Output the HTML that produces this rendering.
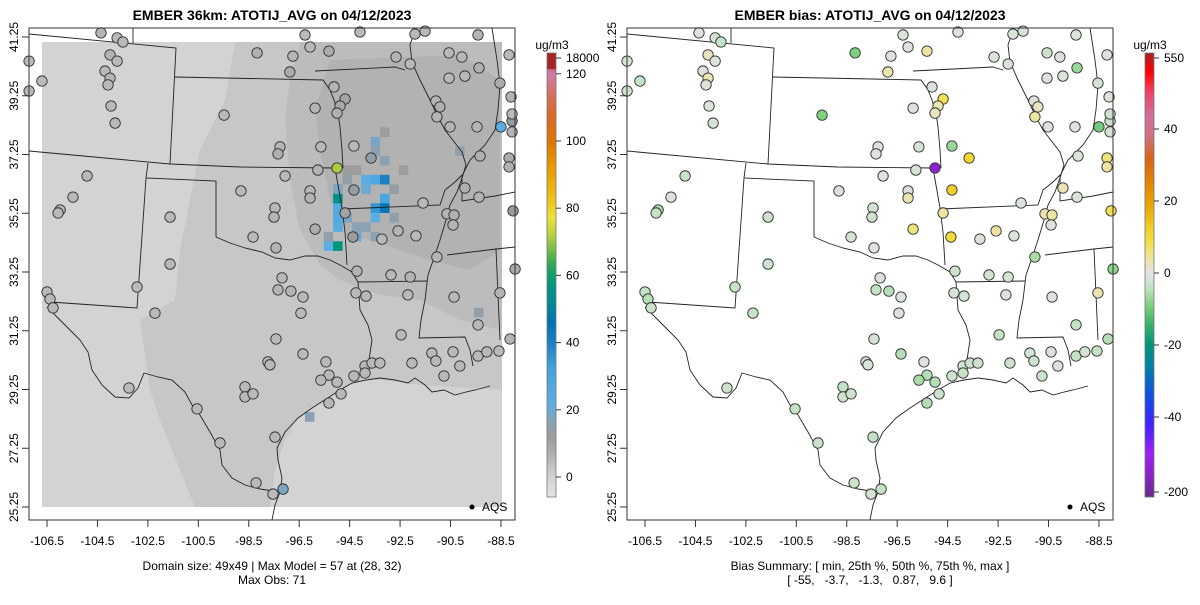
<!DOCTYPE html>
<html><head><meta charset="utf-8"><style>
html,body{margin:0;padding:0;background:#fff;}
svg text{font-family:"Liberation Sans",Arial,sans-serif;}
</style></head><body>
<svg id="chart" width="1200" height="600" viewBox="0 0 1200 600" xmlns="http://www.w3.org/2000/svg">
<text x="272" y="20" text-anchor="middle" font-size="14" font-weight="bold">EMBER 36km: ATOTIJ_AVG on 04/12/2023</text>
<text x="870" y="20" text-anchor="middle" font-size="14" font-weight="bold">EMBER bias: ATOTIJ_AVG on 04/12/2023</text>
<text x="272" y="570" text-anchor="middle" font-size="12">Domain size: 49x49 | Max Model = 57 at (28, 32)</text>
<text x="272" y="584" text-anchor="middle" font-size="12">Max Obs: 71</text>
<text x="870" y="570" text-anchor="middle" font-size="12">Bias Summary: [ min, 25th %, 50th %, 75th %, max ]</text>
<text x="870" y="584" text-anchor="middle" font-size="12" xml:space="preserve">[ -55,   -3.7,   -1.3,   0.87,   9.6 ]</text>
<g id="left"></g>
<g id="right" transform="translate(598,0)"></g>
<g id="cbars"></g>
</svg>
<script>
// ---- data ----
const xTicks = [-106.5,-104.5,-102.5,-100.5,-98.5,-96.5,-94.5,-92.5,-90.5,-88.5];
const yTicks = [41.25,39.25,37.25,35.25,33.25,31.25,29.25,27.25,25.25];
const stLon = [-104.36,-103.72,-103.49,-104.0,-103.72,-104.2,-104.0,-104.08,-106.7,-107.21,-107.21,-103.96,-103.8,-99.48,-98.17,-96.75,-96.87,-96.27,-96.07,-95.32,-94.09,-92.66,-92.1,-91.91,-91.51,-90.56,-90.05,-89.41,-89.37,-90.56,-89.93,-88.54,-88.18,-88.1,-88.06,-88.06,-88.5,-89.45,-90.52,-91.08,-90.92,-91.04,-95.12,-94.68,-94.88,-95.0,-95.87,-97.26,-97.34,-95.64,-94.33,-93.65,-95.0,-95.76,-97.06,-98.81,-104.91,-105.47,-105.98,-106.06,-101.62,-97.46,-97.5,-96.07,-96.07,-94.33,-94.68,-91.59,-89.93,-89.37,-89.33,-88.18,-88.18,-88.02,-90.64,-90.36,-90.4,-95.87,-94.37,-93.22,-92.58,-91.87,-98.33,-97.42,-101.62,-94.21,-92.86,-92.1,-91.04,-87.94,-97.18,-97.34,-96.83,-96.35,-94.25,-93.85,-92.19,-90.36,-88.54,-102.93,-106.5,-106.38,-106.26,-102.22,-96.43,-97.42,-96.35,-97.74,-97.66,-95.44,-93.89,-93.61,-93.3,-93.89,-94.33,-95.32,-95.64,-95.0,-94.84,-95.32,-92.46,-92.03,-91.24,-91.08,-90.76,-90.4,-90.13,-89.41,-89.06,-88.58,-88.14,-89.41,-103.25,-98.65,-98.65,-98.33,-100.55,-99.64,-97.46,-98.21,-97.14,-97.54,-88.06];
const stLat = [41.39,41.22,41.08,40.64,40.43,40.09,39.85,39.62,39.75,40.43,39.41,38.9,38.32,38.59,40.71,40.6,40.06,41.32,40.91,40.77,41.42,40.57,40.33,41.35,41.45,40.71,40.57,41.32,40.2,39.85,39.92,39.68,40.64,39.21,38.39,38.02,38.19,38.19,38.19,39.07,38.87,38.53,39.55,39.14,38.9,38.66,38.83,37.51,37.27,37.51,37.54,37.13,36.79,36.72,36.52,36.01,36.52,35.8,35.36,35.26,35.12,35.43,35.12,36.01,35.77,36.04,35.26,35.6,36.11,35.8,37.2,37.13,36.83,35.33,35.23,35.19,34.85,34.71,34.44,34.37,34.65,34.48,34.44,34.07,33.52,33.28,33.15,33.08,33.76,33.35,33.05,32.64,32.6,32.4,32.54,32.43,32.47,32.4,32.54,32.74,32.57,32.33,32.03,31.85,31.85,30.97,30.46,30.19,30.09,30.19,30.05,30.15,30.15,29.81,29.71,29.74,29.57,29.5,29.1,28.79,31.11,30.15,30.49,30.22,29.71,30.53,30.05,30.39,30.53,30.56,30.97,31.45,29.3,29.34,29.0,29.1,28.59,27.43,27.63,26.07,25.86,25.69,38.63];
const stObs = [6,5,5,6,5,5,6,5,5,5,5,5,5,5,7,6,8,5,5,8,5,6,5,5,5,5,5,6,7,5,5,8,5,6,14,6,22,6,6,6,7,6,6,10,9,7,6,6,7,5,5,14,71,6,5,5,5,5,5,5,5,5,6,5,6,14,10,5,7,6,7,8,7,12,6,7,6,8,12,5,6,5,5,6,5,6,5,6,6,8,5,6,6,5,5,5,5,5,6,5,5,5,5,5,5,5,5,5,5,5,5,5,5,5,5,5,5,5,5,5,5,5,5,5,5,5,5,5,5,5,6,5,5,5,5,5,5,5,5,5,18];
const stBias = [-1,-2,-4,2,-1,-1,3,-1,-4,-2,-2,-1,-2,-9,-9,-1,3,-1,-1,4,-1,-1,-2,-1,-2,-3,-1,-1,-7,-1,-1,-2,-1,-1,-3,-2,-10,-1,-1,-1,2,4,-1,8,3,2,-1,-1,-1,-2,-7,11,-55,-2,-1,-1,-3,-1,-5,-4,-3,-2,-3,-1,3,12,4,-1,3,-1,-1,6,4,8,3,4,-1,6,10,-1,4,-1,-2,-1,-3,-3,-2,-2,-6,-8,-1,-4,-5,-1,-2,-2,-1,-1,3,-4,-4,-5,-3,-4,-1,-2,-5,-3,-1,-1,-2,-3,-3,-4,-3,-5,-6,-5,-3,-5,-4,-3,-2,-3,-3,-1,-1,-4,-2,-4,-5,-4,-3,-4,-3,-3,-4,-3,-4,-3,-4,-2,-3,-5,-3,14];
// model grid cells (column, row from top, value)
const cellCol = [31,31,31,31,31,30,31,35,35,34,35,36,34,36,35,36,35,32,33,34,36,37,32,33,35,37,30,32,33,38,36,28,44,46];
const cellRow = [15,16,17,18,19,21,21,10,11,14,14,14,15,16,17,17,18,14,19,19,12,15,18,20,20,18,20,13,13,13,9,39,11,28];
const cellVal = [18,55,26,26,24,22,57,18,15,22,28,40,20,30,35,45,22,14,16,16,16,14,18,20,16,14,14,12,12,12,12,16,14,14];
// colour scales
const obsStopV = [-6,0,6,12,16,22,32,40,46,52,57,62,67,72,77,82,92,100,108,114,120,126];
const obsStopC = ['#e4e4e4','#d3d3d3','#b4b4b4','#9c9c9c','#8aa2b4','#5caee2','#45a3dd','#1b80c2','#0072b0','#008a96','#00967e','#22a25e','#6cb94a','#b6d13e','#ece23c','#f0c41c','#e89c00','#e07400','#d86a2a','#d27060','#d07ca8','#a52424'];
const biasStopV = [-62,-56,-50,-42,-34,-26,-20,-14,-9,-4,0,4,9,14,20,26,32,38,42,46,49,52];
const biasStopC = ['#6a2a8a','#8a22c8','#a020f0','#4020ff','#1050e0','#0080a8','#00957a','#3cb46a','#80d07e','#c4e2c4','#e3e3e3','#ece4a0','#f0e040','#f0c420','#e8a000','#e08000','#d86418','#d07080','#d070a0','#f04060','#ff0000','#a52424'];
const obsTickV = [0,20,40,60,80,100,120];
const biasTickV = [-40,-20,0,20,40];

// ---- axes ----
const X = lon => 47 + (lon + 106.5) * 25.22;
const Y = lat => 37 + (41.25 - lat) * 29.375;
const NS = 'http://www.w3.org/2000/svg';
function mk(tag, attrs, parent){ const e=document.createElementNS(NS,tag); for(const k in attrs) e.setAttribute(k,attrs[k]); parent.appendChild(e); return e; }
function hex(h){return [parseInt(h.substr(1,2),16),parseInt(h.substr(3,2),16),parseInt(h.substr(5,2),16)];}
function interp(v, sv, sc){
  if(v<=sv[0]) return sc[0];
  for(let i=1;i<sv.length;i++){ if(v<=sv[i]){ const t=(v-sv[i-1])/(sv[i]-sv[i-1]); const a=hex(sc[i-1]),b=hex(sc[i]); return 'rgb('+a.map((x,j)=>Math.round(x+(b[j]-x)*t)).join(',')+')'; } }
  return sc[sc.length-1];
}
const borders = [
 "M29,34 L176,48 L170,164","M133,28 L133,43","M175,77 L323,80 L330,90 L334,100 L338,113 L340,127 L342,150 L343,168",
 "M29,151 L170,164 L240,167 L335,168","M148,163 L146,178 L216,181 L216,237","M146,178 L137,308 L50,302",
 "M216,237 L230,243 L245,248 L262,252 L275,258 L290,260 L305,256 L318,256 L330,260 L340,265 L352,272 L358,282 L427,281",
 "M335,168 L342,208 L345,232 L347,265","M342,209 L440,205 L445,190 L455,182 L462,175",
 "M358,282 L360,310 L368,325 L372,340 L369,360 L367,375",
 "M415,30 L410,45 L412,62 L420,80 L430,100 L437,115 L445,130 L455,143 L462,152 L466,165 L462,178 L457,192 L450,205 L446,220 L440,240 L434,258 L428,275 L425,300 L421,320 L419,338 L465,337 L470,350 L473,366",
 "M492,28 L497,60 L500,85 L498,110 L495,130 L485,145 L470,160 L462,176 L462,201 L495,196 L515,192",
 "M447,255 L496,249 L515,247","M496,249 L500,340","M315,71 L395,67 L405,70",
 "M47,307 L55,315 L65,325 L80,340 L88,352 L92,370 L102,385 L115,397 L129,398 L138,388 L144,373 L158,377 L172,380 L185,392 L192,405 L200,415 L210,432 L220,450 L222,465 L232,478 L245,485 L260,489 L280,492 L275,505 L272,520",
 "M280,492 L282,478 L278,460 L277,448 L285,432 L298,418 L312,408 L326,399 L340,390 L352,383 L366,380 L380,378 L395,380 L408,383 L415,378 L425,385 L432,392 L444,390 L455,395 L466,392 L475,390 L490,386"
];
function drawPanel(g, isBias){
  if(!isBias){
    mk('rect',{x:42,y:42,width:460,height:465,fill:'#d3d3d3',},g);
    mk('path',{d:'M235,42 L502,42 L502,390 L420,385 L365,378 L330,395 L300,415 L285,440 L275,470 L270,507 L195,507 L180,470 L160,420 L150,390 L140,320 L175,300 L180,250 L190,200 L200,150 L225,100 Z',fill:'#c7c7c7',},g);
    mk('path',{d:'M300,42 L502,42 L502,330 L460,320 L420,300 L380,295 L340,280 L320,265 L300,230 L290,180 L285,120 L290,80 Z',fill:'#bcbcbc',},g);
    mk('path',{d:'M330,60 L460,55 L500,80 L500,250 L470,270 L430,260 L400,250 L370,240 L345,235 L330,200 L320,150 L315,110 Z',fill:'#b2b2b2',},g);
    for(let i=0;i<cellCol.length;i++){
      const c=mk('rect',{x:42+cellCol[i]*9.39,y:42+cellRow[i]*9.49,width:9.5,height:9.6,fill:interp(cellVal[i],obsStopV,obsStopC)},g);
      
      
    }
  }
  const bg=mk('g',{fill:'none',stroke:'#222','stroke-width':0.9},g);
  
  
  borders.forEach(d=>mk('path',{d:d},bg));
  for(let i=0;i<stLon.length;i++){
    let v = isBias? stBias[i] : stObs[i];
    if(v===undefined) v = isBias ? -1 : 5;
    const c=mk('circle',{cx:X(stLon[i]),cy:Y(stLat[i]),r:5.2,fill:interp(v,isBias?biasStopV:obsStopV,isBias?biasStopC:obsStopC),stroke:'#333','stroke-width':0.9},g);
    
    
  }
  mk('rect',{x:29,y:28,width:486,height:492,fill:'none',stroke:'#333','stroke-width':1},g);
  mk('circle',{cx:472,cy:507,r:2.5,fill:'#000'},g);
  const lt=mk('text',{x:482,y:511,'font-size':12},g); lt.textContent='AQS';
  
  
  xTicks.forEach(t=>{
    mk('line',{x1:X(t),x2:X(t),y1:520,y2:527,stroke:'#333'},g);
    const tx=mk('text',{x:X(t),y:545,'font-size':12,'text-anchor':'middle'},g); tx.textContent=t.toFixed(1);
    
    
  });
  yTicks.forEach(t=>{
    mk('line',{x1:22,x2:29,y1:Y(t),y2:Y(t),stroke:'#333'},g);
    const tx=mk('text',{x:0,y:0,'font-size':12,'text-anchor':'middle',transform:'translate(18,'+Y(t)+') rotate(-90)'},g); tx.textContent=t.toFixed(2);
    
    
  });
}
drawPanel(document.getElementById('left'), false);
drawPanel(document.getElementById('right'), true);

function colorbar(x, top, bot, sv, sc, valToY, ticks, topLabel, botLabel, name){
  const g=mk('g',{},document.getElementById('cbars'));
  
  
  for(let y=top;y<bot;y+=2){
    const v = valToY.inv(y+1);
    mk('rect',{x:x,y:y,width:9,height:2.2,fill:interp(v,sv,sc)},g);
  }
  mk('rect',{x:x,y:top,width:9,height:bot-top,fill:'none',stroke:'#777','stroke-width':0.8},g);
  const u=mk('text',{x:x+5,y:top-4,'font-size':12,'text-anchor':'middle'},g); u.textContent='ug/m3';
  const all=[[top+5,topLabel]].concat(ticks.map(t=>[valToY(t),String(t)])).concat(botLabel?[[bot-5,botLabel]]:[]);
  all.forEach(([yy,l])=>{
    mk('line',{x1:x+9,x2:x+14,y1:yy,y2:yy,stroke:'#333'},g);
    const t=mk('text',{x:x+19,y:yy+4,'font-size':12},g); t.textContent=l;
  });
}
const obsY = v => 477 - v*3.36; obsY.inv = y => (477-y)/3.36 + (y<70?1000:0);
colorbar(547,53,497,obsStopV,obsStopC,obsY,obsTickV,'18000',null,'obs-colorbar');
const biasY = v => 273 - v*3.6;
biasY.inv = y => {
  if(y>417) return -40 - (y-417)/(497-417)*22;
  if(y<129) return 40 + (129-y)/(129-53)*12;
  return (273-y)/3.6;
};
colorbar(1145,53,497,biasStopV,biasStopC,biasY,biasTickV,'550','-200','bias-colorbar');
</script>
</body></html>
